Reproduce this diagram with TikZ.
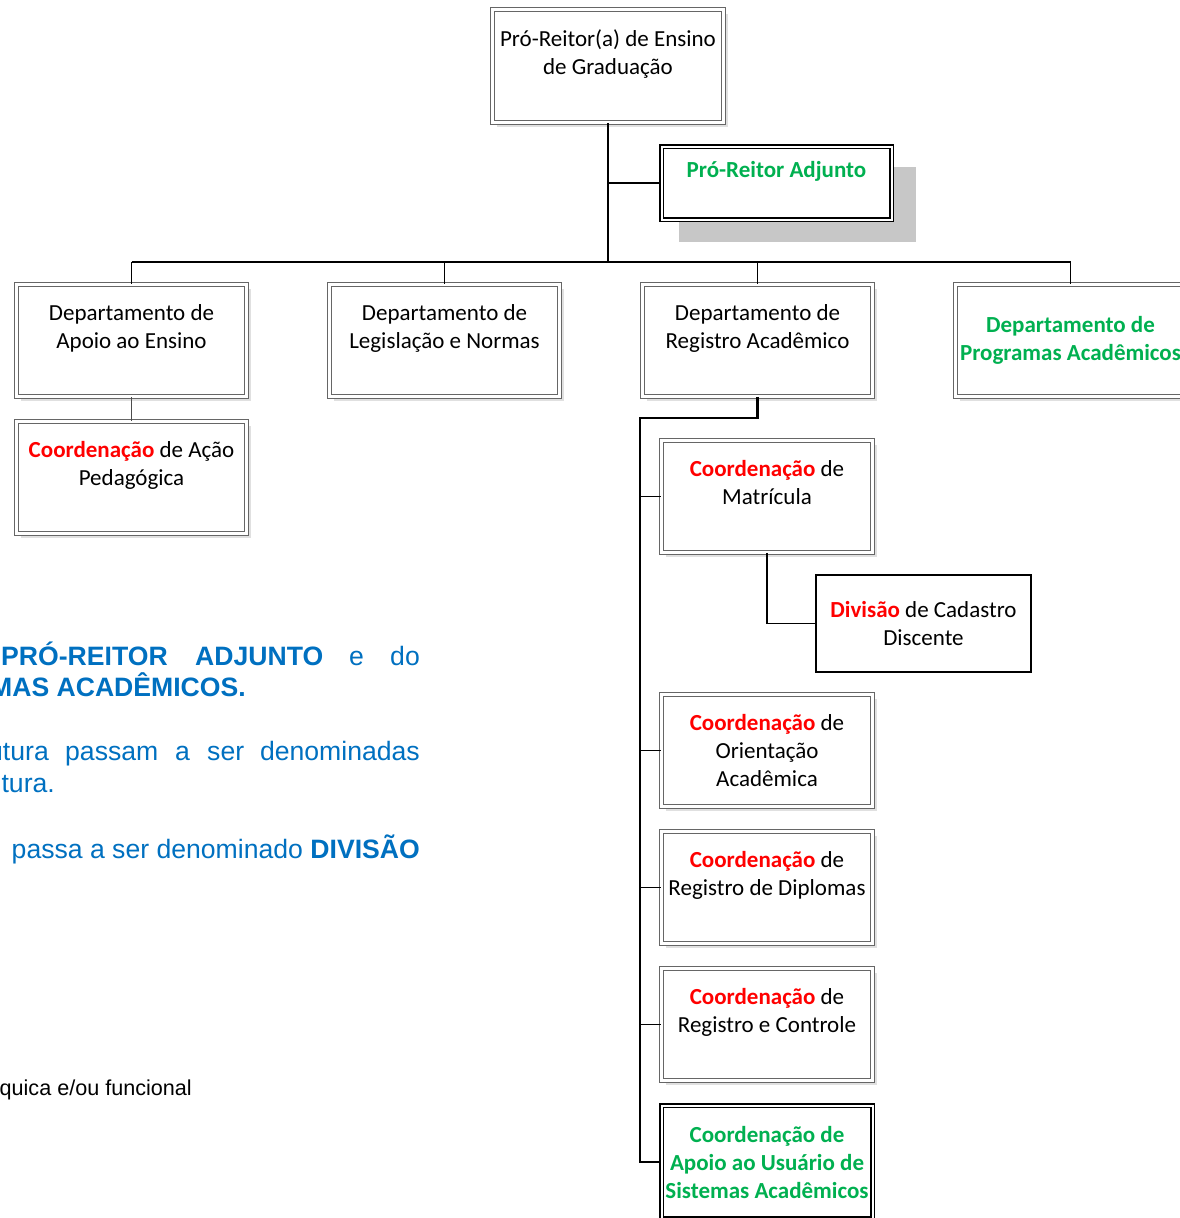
\documentclass[tikz,border=0pt]{standalone}
\usepackage{fontspec}
\setmainfont{Carlito}
\newfontfamily\arialf{Liberation Sans}
\usetikzlibrary{shadows}
\definecolor{ogreen}{HTML}{00B050}
\definecolor{ored}{HTML}{FF0000}
\definecolor{oblue}{HTML}{0070C0}
\newcommand{\rd}[1]{\textbf{\textcolor{ored}{#1}}}
\begin{document}
\begin{tikzpicture}[x=1pt,y=-1pt,
  frame/.style={draw=black!60, double=white, line width=0.9pt, double distance=2.6pt,
    fill=white, inner sep=0pt, align=center, font=\fontsize{23}{28}\selectfont},
  gbox/.style={frame, drop shadow={shadow xshift=4pt, shadow yshift=-4pt, fill=black!12, opacity=1}},
  bbox/.style={frame, draw=black, line width=1.4pt, double distance=2pt},
  sbox/.style={draw=black, line width=1.5pt, fill=white, inner sep=0pt, align=center, font=\fontsize{23}{28}\selectfont},
  conn/.style={draw=black, line width=1.5pt},
  connthick/.style={draw=black, line width=2.5pt},
  conngray/.style={draw=black!70, line width=1.5pt},
  bluetxt/.style={inner sep=0pt, text=oblue, font=\arialf\fontsize{26.6}{32}\selectfont},
  blacktxt/.style={inner sep=0pt, text=black, font=\arialf\fontsize{21.6}{26}\selectfont}
]
\useasboundingbox (0,0) rectangle (1180,1218);

% boxes
\node[gbox, minimum width=231pt, minimum height=113pt] (top) at (608,66)
  {Pró-Reitor(a) de Ensino\\de Graduação\\\mbox{}};
\node[bbox, minimum width=230pt, minimum height=73pt,
  drop shadow={shadow xshift=20pt, shadow yshift=-21pt, shadow scale=1.03, fill=black!22, opacity=1}] (adj) at (776.5,183)
  {\textbf{\textcolor{ogreen}{Pró-Reitor Adjunto}}\\\mbox{}};

\node[gbox, minimum width=230pt, minimum height=112pt] (d1) at (131.5,340.5)
  {Departamento de\\Apoio ao Ensino\\\mbox{}};
\node[gbox, minimum width=230pt, minimum height=112pt] (d2) at (444.5,340.5)
  {Departamento de\\Legislação e Normas\\\mbox{}};
\node[gbox, minimum width=230pt, minimum height=112pt] (d3) at (757.5,340.5)
  {Departamento de\\Registro Acadêmico\\\mbox{}};
\node[gbox, minimum width=230pt, minimum height=112pt] (d4) at (1070.5,340.5)
  {\textbf{\textcolor{ogreen}{Departamento de}}\\\textbf{\textcolor{ogreen}{Programas Acadêmicos}}};

\node[gbox, minimum width=230pt, minimum height=112pt] (cap) at (131.5,477.5)
  {\rd{Coordenação} de Ação\\Pedagógica\\\mbox{}};

\node[gbox, minimum width=211pt, minimum height=112pt] (cmat) at (767,496.5)
  {\rd{Coordenação} de\\Matrícula\\\mbox{}};
\node[sbox, minimum width=215pt, minimum height=97pt] (div) at (923.5,623.5)
  {\rd{Divisão} de Cadastro\\Discente};
\node[gbox, minimum width=211pt, minimum height=112pt] (cori) at (767,750.5)
  {\rd{Coordenação} de\\Orientação\\Acadêmica};
\node[gbox, minimum width=211pt, minimum height=112pt] (cdip) at (767,887.5)
  {\rd{Coordenação} de\\Registro de Diplomas\\\mbox{}};
\node[gbox, minimum width=211pt, minimum height=112pt] (cctl) at (767,1024.5)
  {\rd{Coordenação} de\\Registro e Controle\\\mbox{}};
\node[bbox, minimum width=211pt, minimum height=113pt] (capo) at (767,1162)
  {\textbf{\textcolor{ogreen}{Coordenação de}}\\\textbf{\textcolor{ogreen}{Apoio ao Usuário de}}\\\textbf{\textcolor{ogreen}{Sistemas Acadêmicos}}};

% connectors
\coordinate (bus) at (608,262);
\coordinate (rb) at (640,418);
\draw[connthick] (top.south) -- (bus);
\draw[conn] (top.south |- adj.west) -- (adj.west);
\draw[conn] (d1.north |- bus) -- (d4.north |- bus);
\draw[conn] (d1.north |- bus) -- (d1.north);
\draw[conn] (d2.north |- bus) -- (d2.north);
\draw[conn] (d3.north |- bus) -- (d3.north);
\draw[conn] (d4.north |- bus) -- (d4.north);
\draw[conngray] (d1.south) -- (cap.north);
\draw[connthick] (d3.south) |- (rb) -- (rb |- capo.west) -- (capo.west);
\draw[conn] (rb |- cmat.west) -- (cmat.west);
\draw[conn] (rb |- cori.west) -- (cori.west);
\draw[conn] (rb |- cdip.west) -- (cdip.west);
\draw[conn] (rb |- cctl.west) -- (cctl.west);
\draw[conn] (cmat.south) |- (div.west);

% side text
\node[bluetxt, anchor=base west] (t1a) at (1,665) {\textbf{PRÓ-REITOR}};
\node[bluetxt, anchor=base west] (t1b) at (195,665) {\textbf{ADJUNTO}};
\node[bluetxt, anchor=base west] (t1c) at (349,665) {e};
\node[bluetxt, anchor=base east] (t1d) at (420,665) {do};
\node[bluetxt, anchor=base east] (t2) at (246,696) {\textbf{MAS ACADÊMICOS.}};
\node[bluetxt, anchor=base east] (t3a) at (49,760) {utura};
\node[bluetxt, anchor=base west] (t3b) at (65,760) {passam};
\node[bluetxt, anchor=base west] (t3c) at (175,760) {a};
\node[bluetxt, anchor=base west] (t3d) at (207,760) {ser};
\node[bluetxt, anchor=base east] (t3e) at (420,760) {denominadas};
\node[bluetxt, anchor=base east] (t4) at (55,792) {utura.};
\node[bluetxt, anchor=base east] (t5) at (420,858) {passa a ser denominado \textbf{DIVISÃO}};
\node[blacktxt, anchor=base east] (t6) at (192,1095) {quica e/ou funcional};
\end{tikzpicture}
\end{document}
